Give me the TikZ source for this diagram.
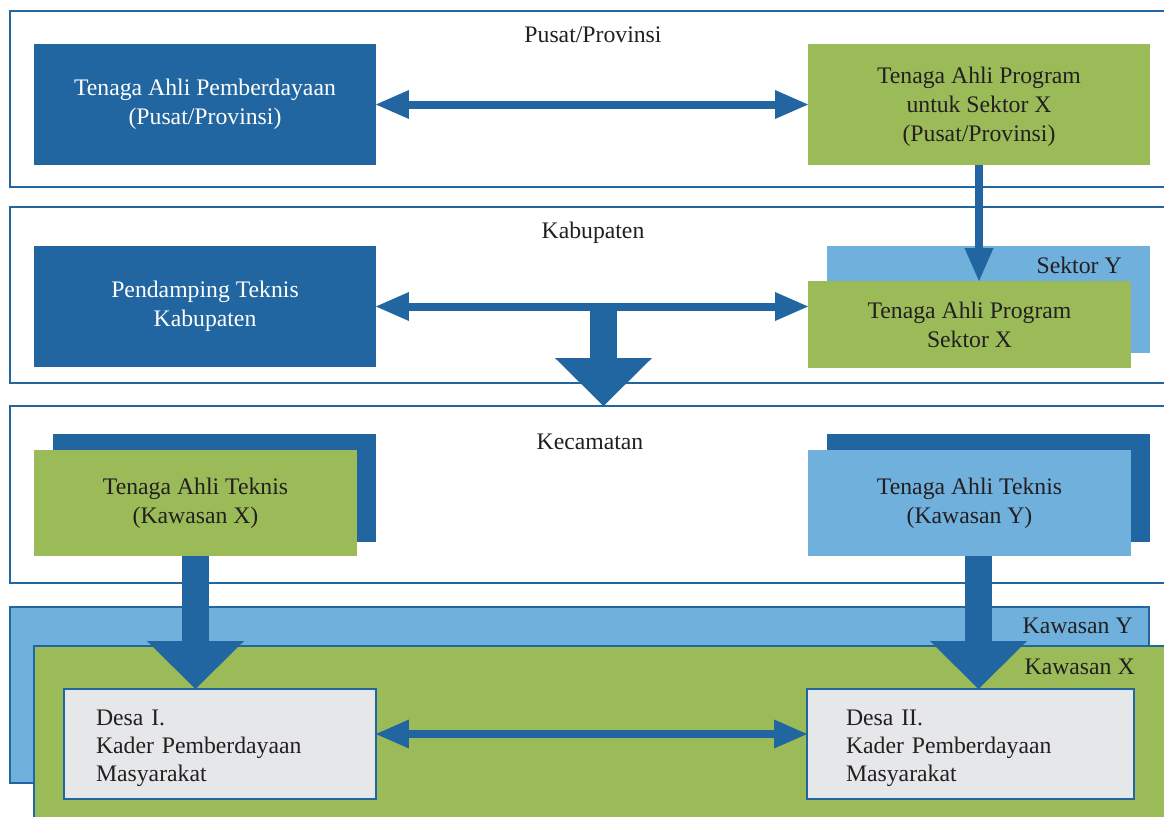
\documentclass[tikz,border=0pt]{standalone}
\usepackage{fontspec}
\setmainfont{Liberation Serif}
\usetikzlibrary{arrows.meta}
\definecolor{birutua}{RGB}{33,102,160}
\definecolor{hijau}{RGB}{155,187,89}
\definecolor{birumuda}{RGB}{111,176,221}
\definecolor{abu}{RGB}{230,231,233}
\definecolor{teks}{RGB}{35,31,32}

\begin{document}
\begin{tikzpicture}[x=0.02cm,y=-0.02cm,
  lapisan/.style={draw=birutua,line width=0.04cm,fill=white,inner sep=0pt,outer sep=0pt},
  kotak/.style={align=center,inner sep=0pt,outer sep=0pt,text=teks,font=\fontsize{13.5}{16.4}\selectfont},
  besar/.style={kotak,minimum width=6.84cm,minimum height=2.42cm},
  sedang/.style={kotak,minimum width=6.46cm},
  desa/.style={kotak,align=left,draw=birutua,line width=0.04cm,fill=abu,minimum height=2.2cm,font=\fontsize{13.5}{16}\selectfont},
  judul/.style={inner sep=0pt,text=teks,font=\fontsize{13.5}{16.4}\selectfont},
  panah/.style={draw=birutua,line width=0.16cm,{Triangle[width=0.58cm,length=0.66cm,line width=0pt]}-{Triangle[width=0.58cm,length=0.66cm,line width=0pt]}},
  panahturun/.style={draw=birutua,line width=0.16cm,-{Triangle[width=0.58cm,length=0.66cm,line width=0pt]}},
  blok/.style={draw=birutua,line width=0.53cm,-{Triangle[width=1.94cm,length=0.96cm,line width=0pt]}}]
\clip (0,0) rectangle (1164,816);

\node[lapisan,minimum width=23.4cm,minimum height=3.52cm] (pusat) at (595,99) {};
\node[lapisan,minimum width=23.4cm,minimum height=3.52cm] (kab) at (595,295) {};
\node[lapisan,minimum width=23.4cm,minimum height=3.54cm] (kec) at (595,494.5) {};
\node[lapisan,fill=birumuda,minimum width=22.78cm,minimum height=3.52cm] (kawy) at (579.5,695) {};
\node[lapisan,fill=hijau,minimum width=23.12cm,minimum height=3.68cm] (kawx) at (612,738) {};

\node[judul] at (593,35) {Pusat/Provinsi};
\node[judul] at (593,233) {Kabupaten};
\node[judul] at (590,442) {Kecamatan};
\node[judul,anchor=east] at (1133,626) {Kawasan Y};
\node[judul,anchor=east] at (1135,667) {Kawasan X};

\node[besar,fill=birutua,text=white] (tap) at (205,104.5) {Tenaga Ahli Pemberdayaan\\(Pusat/Provinsi)};
\node[besar,fill=hijau] (tapx) at (979,104.5) {\rule{0pt}{12pt}Tenaga Ahli Program\\untuk Sektor X\\(Pusat/Provinsi)};

\node[besar,fill=birutua,text=white] (ptk) at (205,306.5) {Pendamping Teknis\\Kabupaten};
\fill[birumuda] (827,246) rectangle (1150,353);
\node[judul,anchor=east] at (1122,265) {Sektor Y};
\node[sedang,fill=hijau,minimum height=1.74cm] (tapsx) at (969.5,324.5) {Tenaga Ahli Program\\Sektor X};

\fill[birutua] (53,434) rectangle (376,542);
\fill[birutua] (827,434) rectangle (1150,542);
\node[sedang,fill=hijau,minimum height=2.12cm] (tatx) at (195.5,503) {Tenaga Ahli Teknis\\(Kawasan X)};
\node[sedang,fill=birumuda,minimum height=2.12cm] (taty) at (969.5,503) {Tenaga Ahli Teknis\\(Kawasan Y)};

\node[desa,inner xsep=0.64cm,text width=4.96cm] (desa1) at (220,744) {\rule{0pt}{14pt}Desa I.\\Kader Pemberdayaan\\Masyarakat};
\node[desa,inner xsep=0.78cm,text width=4.98cm] (desa2) at (970.5,744) {\rule{0pt}{14pt}Desa II.\\Kader Pemberdayaan\\Masyarakat};

\path[panah] (tap) -- (tapx);
\path[panahturun] (tapx.south) -- (tapx.south |- tapsx.north);
\path[panah] (ptk.east) -- (ptk.east -| tapsx.west);
\coordinate (tengah) at (603.5,306.5);
\path[blok] (tengah) -- (tengah |- kec.north);
\path[blok] (tatx.south) -- (tatx.south |- desa1.north);
\path[blok] ([xshift=0.18cm]taty.south) -- ([xshift=0.18cm]taty.south |- desa2.north);
\path[panah] ([yshift=0.2cm]desa1.east) -- ([yshift=0.2cm]desa1.east -| desa2.west);
\end{tikzpicture}
\end{document}
